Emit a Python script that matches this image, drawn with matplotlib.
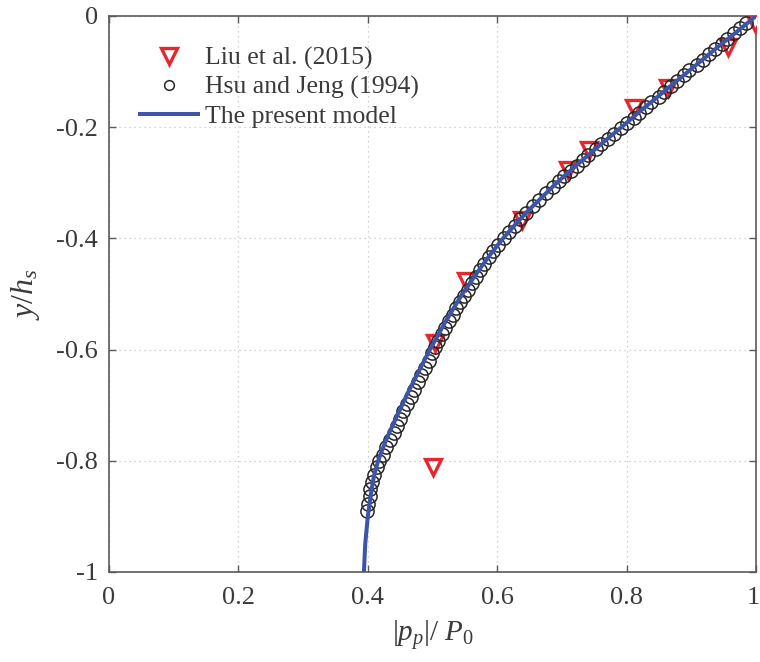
import matplotlib
matplotlib.use("Agg")
import matplotlib.pyplot as plt
import matplotlib.transforms as mtransforms

plt.rcParams['font.family'] = ['Liberation Serif', 'DejaVu Serif']
plt.rcParams['mathtext.fontset'] = 'custom'
plt.rcParams['mathtext.rm'] = 'Liberation Serif'
plt.rcParams['mathtext.it'] = 'Liberation Serif:italic'
plt.rcParams['mathtext.bf'] = 'Liberation Serif:bold'

# Liu et al. (2015)
liu_x = [0.998, 0.957, 0.864, 0.811, 0.742, 0.710, 0.638, 0.552, 0.504, 0.501]
liu_y = [-0.012, -0.056, -0.129, -0.165, -0.241, -0.277, -0.367, -0.477, -0.588, -0.811]

# Hsu and Jeng (1994)
hsu_x = [0.985, 0.975, 0.966, 0.955, 0.948, 0.937, 0.928, 0.918, 0.909, 0.897,
         0.889, 0.878, 0.869, 0.858, 0.850, 0.838, 0.830, 0.819, 0.811, 0.800,
         0.792, 0.780, 0.772, 0.761, 0.753, 0.741, 0.733, 0.723, 0.714, 0.703,
         0.695,
         0.686, 0.676, 0.665, 0.656, 0.645, 0.636, 0.627, 0.618, 0.610, 0.602,
         0.594, 0.587, 0.580, 0.574, 0.567, 0.561, 0.555, 0.549, 0.543, 0.537,
         0.531, 0.526, 0.520, 0.515, 0.509, 0.504,
         0.499, 0.494, 0.488, 0.482, 0.477, 0.471, 0.466, 0.461, 0.455, 0.450,
         0.445, 0.440, 0.434, 0.428, 0.424, 0.418, 0.414, 0.410, 0.406, 0.404,
         0.403, 0.400, 0.398]
hsu_y = [-0.012, -0.022, -0.031, -0.041, -0.050, -0.060, -0.069, -0.079, -0.088, -0.098,
         -0.107, -0.117, -0.126, -0.136, -0.145, -0.155, -0.164, -0.174, -0.183, -0.193,
         -0.202, -0.212, -0.221, -0.231, -0.240, -0.250, -0.259, -0.269, -0.278, -0.288,
         -0.297,
         -0.308, -0.319, -0.331, -0.342, -0.354, -0.365, -0.377, -0.388, -0.400, -0.411,
         -0.423, -0.434, -0.446, -0.457, -0.469, -0.480, -0.492, -0.503, -0.515, -0.526,
         -0.538, -0.549, -0.561, -0.572, -0.584, -0.595,
         -0.607, -0.620, -0.633, -0.646, -0.659, -0.672, -0.685, -0.698, -0.711, -0.724,
         -0.737, -0.750, -0.763, -0.776, -0.789, -0.800, -0.812, -0.825, -0.838, -0.851,
         -0.864, -0.877, -0.890]

# The present model
model_x = [1.000, 0.974, 0.947, 0.921, 0.895, 0.869, 0.843, 0.817, 0.792, 0.766,
           0.741, 0.716, 0.692, 0.670, 0.648, 0.628, 0.609, 0.592, 0.576, 0.561,
           0.546, 0.533, 0.520, 0.508, 0.496, 0.485, 0.474, 0.463, 0.453, 0.443,
           0.433, 0.424, 0.416, 0.410, 0.406, 0.403, 0.400, 0.398, 0.396, 0.395,
           0.394]
model_y = [0.000, -0.025, -0.050, -0.075, -0.100, -0.125, -0.150, -0.175, -0.200, -0.225,
           -0.250, -0.275, -0.300, -0.325, -0.350, -0.375, -0.400, -0.425, -0.450, -0.475,
           -0.500, -0.525, -0.550, -0.575, -0.600, -0.625, -0.650, -0.675, -0.700, -0.725,
           -0.750, -0.775, -0.800, -0.825, -0.850, -0.875, -0.900, -0.925, -0.950, -0.975,
           -1.000]

x_ticks = [0, 0.2, 0.4, 0.6, 0.8, 1]
x_ticklabels = ['0', '0.2', '0.4', '0.6', '0.8', '1']
y_ticks = [-1, -0.8, -0.6, -0.4, -0.2, 0]
y_ticklabels = ['-1', '-0.8', '-0.6', '-0.4', '-0.2', '0']

text_color = '#3a3a3a'
spine_color = '#5a5a5a'

fig = plt.figure(figsize=(7.6, 6.62), dpi=100)
ax = fig.add_axes([109/760, (662-572)/662, 647/760, 556/662])

ax.plot(liu_x, liu_y, linestyle='none', marker='v', markersize=11,
        markerfacecolor='white', markeredgecolor='#e8262d', markeredgewidth=2.4,
        label='Liu et al. (2015)', zorder=3)
ax.plot(hsu_x, hsu_y, linestyle='none', marker='o', markersize=9.5,
        markerfacecolor='none', markeredgecolor='#262626', markeredgewidth=1.1,
        label='Hsu and Jeng (1994)', zorder=4)
ax.plot(model_x, model_y, color='#3c55a8', linewidth=2.9,
        label='The present model', zorder=5, solid_capstyle='butt')

ax.set_xlim(0, 1)
ax.set_ylim(-1, 0)
ax.set_xticks(x_ticks)
ax.set_xticklabels(x_ticklabels)
ax.set_yticks(y_ticks)
ax.set_yticklabels(y_ticklabels)

ax.grid(True, linestyle=(0, (1, 3)), color='#c4c4c4', linewidth=0.9)
ax.set_axisbelow(True)

ax.tick_params(axis='both', which='both', direction='in', top=True, right=True,
               length=5, width=1.0, colors=spine_color, labelcolor=text_color,
               labelsize=19)
ax.tick_params(axis='x', pad=11)
ax.tick_params(axis='y', pad=8)
for s in ax.spines.values():
    s.set_color(spine_color)
    s.set_linewidth(1.2)

# nudge the last x tick label so it stays inside the figure
last = ax.get_xticklabels()[-1]
last.set_transform(last.get_transform() +
                   mtransforms.ScaledTranslation(-3/100, 0, fig.dpi_scale_trans))

ax.set_xlabel(r'$|p_p|/\ P_0$', fontsize=21, color=text_color, labelpad=6)
ax.set_ylabel(r'$y/h_s$', fontsize=23, color=text_color, labelpad=10)

leg = ax.legend(loc='upper left', bbox_to_anchor=(0.045, 0.945), frameon=False,
                fontsize=18.5, handlelength=2.4, handletextpad=0.2,
                labelspacing=0.23, borderaxespad=0, borderpad=0)
for t in leg.get_texts():
    t.set_color(text_color)
handles = leg.legend_handles
handles[0].set_markersize(12)
handles[1].set_markersize(7)

fig.savefig('out.png', dpi=100)
